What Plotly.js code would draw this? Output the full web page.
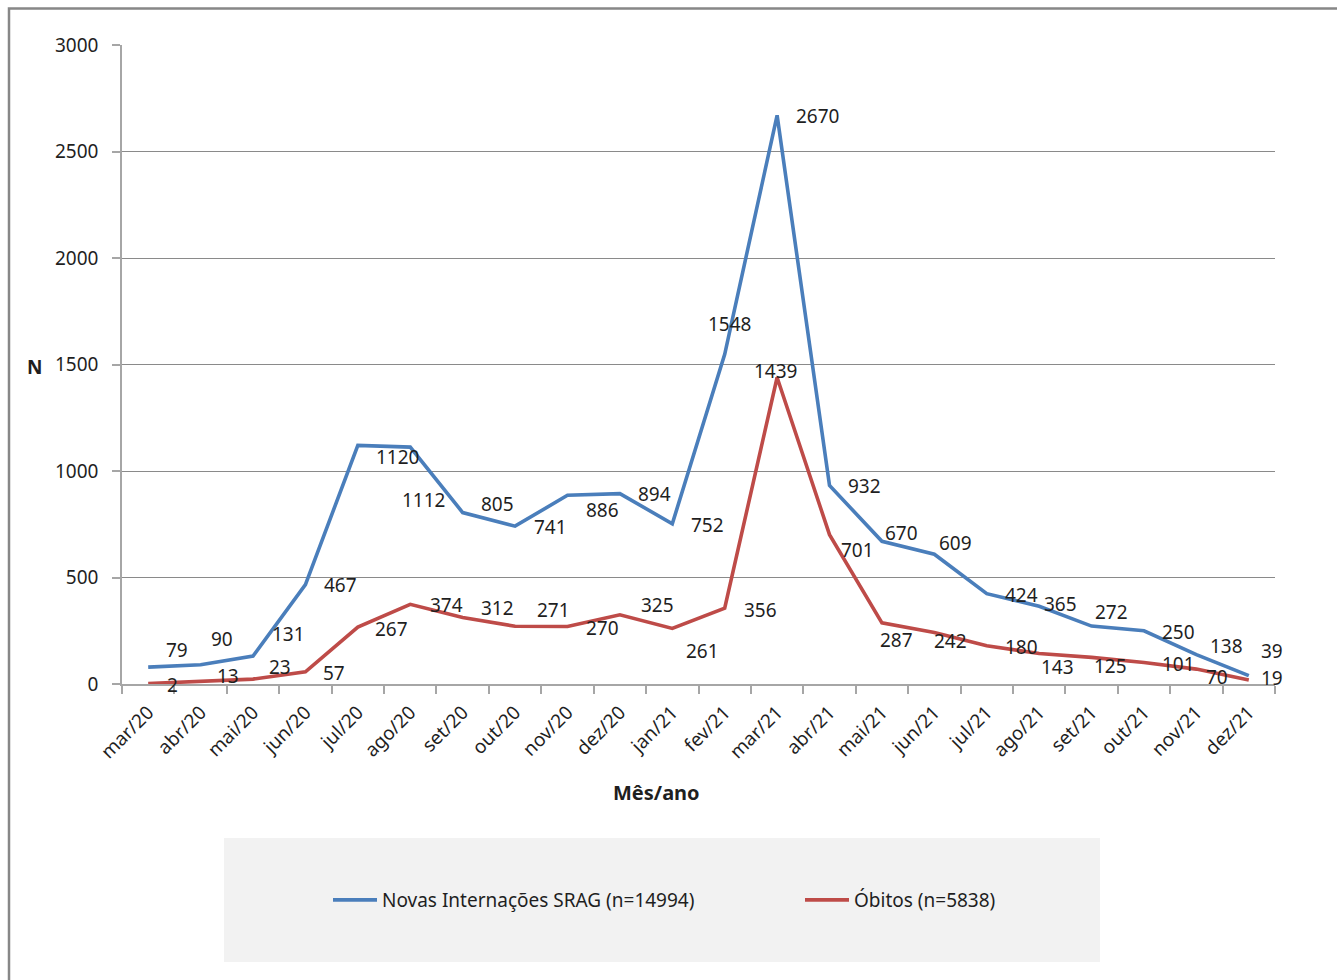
<!DOCTYPE html>
<html>
<head>
<meta charset="utf-8">
<script src="https://cdn.plot.ly/plotly-3.0.1.min.js"></script>
<style>
  html, body { margin: 0; padding: 0; background: #ffffff; }
  #grafico { width: 1337px; height: 980px; }
</style>
</head>
<body>
<div id="grafico"></div>
<script>
// Meses do período
const meses = ['mar/20','abr/20','mai/20','jun/20','jul/20','ago/20','set/20','out/20','nov/20','dez/20',
               'jan/21','fev/21','mar/21','abr/21','mai/21','jun/21','jul/21','ago/21','set/21','out/21','nov/21','dez/21'];

// Novas internações por SRAG
const internacoes = [79, 90, 131, 467, 1120, 1112, 805, 741, 886, 894,
                     752, 1548, 2670, 932, 670, 609, 424, 365, 272, 250, 138, 39];

// Óbitos
const obitos = [2, 13, 23, 57, 267, 374, 312, 271, 270, 325,
                261, 356, 1439, 701, 287, 242, 180, 143, 125, 101, 70, 19];

const nomeInternacoes = 'Novas Internações SRAG (n=14994)';
const nomeObitos = 'Óbitos (n=5838)';

// Deslocamento (px) dos rótulos de dados em relação a cada ponto: [dx, dy], dy positivo = para baixo
const deslocInternacoes = [[29,-17],[21,-26],[35,-22],[35,0],[40,12],[13,53],[35,-9],[35,1],[35,15],[35,0],
                           [35,1],[5,-30],[40,1],[35,1],[20,-8],[21,-11],[35,1],[21,-2],[20,-14],[35,1],[30,-9],[23,-25]];
const deslocObitos = [[24,1],[27,-5],[27,-12],[29,1],[34,2],[36,1],[35,-10],[38,-16],[35,2],[38,-10],
                      [30,23],[36,2],[-2,-6],[28,15],[15,17],[16,9],[35,1],[18,13],[19,9],[35,2],[21,8],[23,-2]];

const W = 1337, H = 980;
const M = { l: 122, r: 62, t: 45, b: 296 };
const plotW = W - M.l - M.r, plotH = H - M.t - M.b;
const px = x => (x - M.l) / plotW;           // pixel -> paper x
const py = y => (H - M.b - y) / plotH;       // pixel -> paper y

const fonte = '"Noto Sans", "Open Sans", sans-serif';
const corTexto = '#1f1f1f';
const azul = '#4a7ebb';
const vermelho = '#be4b48';

const traces = [
  { x: meses, y: internacoes, name: nomeInternacoes, type: 'scatter', mode: 'lines',
    line: { color: azul, width: 3.6 }, hoverinfo: 'x+y' },
  { x: meses, y: obitos, name: nomeObitos, type: 'scatter', mode: 'lines',
    line: { color: vermelho, width: 3.6 }, hoverinfo: 'x+y' }
];

function rotulos(valores, desloc) {
  return valores.map((v, i) => ({
    x: meses[i], y: v, xref: 'x', yref: 'y', text: String(v), showarrow: false,
    xanchor: 'center', yanchor: 'middle',
    xshift: desloc[i][0], yshift: -desloc[i][1],
    font: { family: fonte, size: 19, color: corTexto }
  }));
}

const annotations = [
  ...rotulos(internacoes, deslocInternacoes),
  ...rotulos(obitos, deslocObitos),
  { x: px(34), y: py(367), xref: 'paper', yref: 'paper', text: '<b>N</b>', showarrow: false,
    xanchor: 'center', yanchor: 'middle', font: { family: fonte, size: 19, color: corTexto } },
  { x: px(656), y: py(792), xref: 'paper', yref: 'paper', text: '<b>Mês/ano</b>', showarrow: false,
    xanchor: 'center', yanchor: 'middle', font: { family: fonte, size: 20, color: corTexto } }
];

const shapes = [
  // moldura externa
  { type: 'rect', xref: 'paper', yref: 'paper', x0: px(9), x1: px(1360), y0: py(8.5), y1: py(1000),
    line: { color: '#878787', width: 2.5 }, fillcolor: 'rgba(0,0,0,0)', layer: 'below' },
  // fundo da legenda
  { type: 'rect', xref: 'paper', yref: 'paper', x0: px(224), x1: px(1100), y0: py(838), y1: py(962),
    line: { width: 0 }, fillcolor: '#f2f2f2', layer: 'below' }
];

const layout = {
  width: W, height: H,
  margin: M,
  paper_bgcolor: '#ffffff', plot_bgcolor: '#ffffff',
  font: { family: fonte, size: 19, color: corTexto },
  showlegend: true,
  legend: {
    orientation: 'h', x: px(328), y: py(900), xanchor: 'left', yanchor: 'middle',
    bgcolor: 'rgba(0,0,0,0)', font: { family: fonte, size: 19, color: corTexto },
    entrywidth: 413, entrywidthmode: 'pixels', itemwidth: 44
  },
  xaxis: {
    type: 'category', categoryorder: 'array', categoryarray: meses,
    range: [-0.5, meses.length - 0.5],
    showgrid: false, zeroline: false,
    showline: true, linecolor: '#a6a6a6', linewidth: 1.5,
    ticks: 'outside', tickson: 'boundaries', ticklen: 8, tickcolor: '#a6a6a6', tickwidth: 1.5,
    ticklabelstandoff: 8,
    tickangle: -45, tickfont: { family: fonte, size: 19, color: corTexto },
    fixedrange: true
  },
  yaxis: {
    range: [0, 3000], dtick: 500, tick0: 0,
    showgrid: true, gridcolor: '#8a8a8a', gridwidth: 1,
    zeroline: false,
    showline: true, linecolor: '#a6a6a6', linewidth: 1.5,
    ticks: 'outside', ticklen: 8, tickcolor: '#a6a6a6', tickwidth: 1.5,
    ticklabelstandoff: 10,
    tickfont: { family: fonte, size: 19, color: corTexto },
    fixedrange: true
  },
  annotations: annotations,
  shapes: shapes
};

Plotly.newPlot('grafico', traces, layout, { displayModeBar: false, staticPlot: false, responsive: false });
</script>
</body>
</html>
